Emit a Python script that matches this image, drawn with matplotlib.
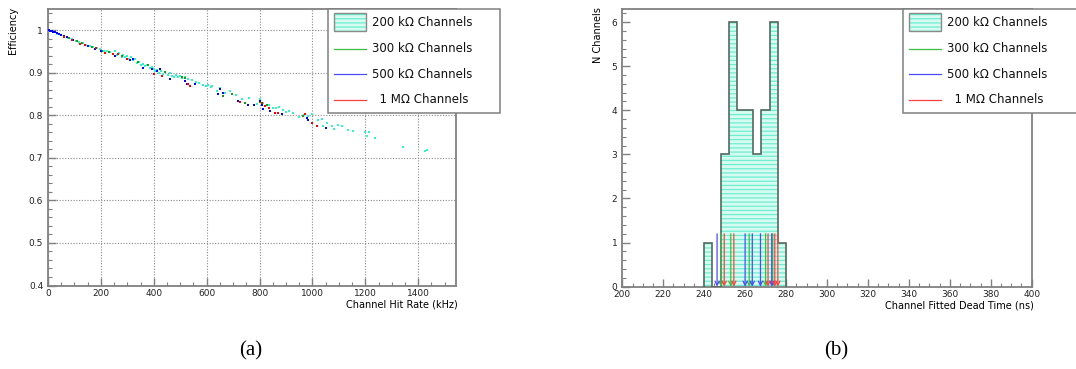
import matplotlib
matplotlib.use("Agg")
import matplotlib.pyplot as plt
import matplotlib.ticker as mticker
from matplotlib.patches import Rectangle
from matplotlib.lines import Line2D

# ---- (a) efficiency vs hit rate, one list pair per resistor group ----
cyan_rate = [8, 22, 35, 48, 62, 75, 90, 105, 118, 132, 145, 160, 172, 185, 198,
             210, 222, 235, 246, 255, 262, 270, 278, 285, 292, 300, 306, 314, 322,
             330, 338, 345, 352, 360, 368, 376, 384, 392, 400, 406, 412, 420, 428,
             436, 444, 452, 460, 468, 476, 484, 492, 500, 508, 520, 530, 545, 560,
             572, 585, 598, 606, 615, 622, 640, 652, 668, 690, 712, 735, 760, 790,
             800, 812, 822, 835, 850, 862, 875, 890, 900, 912, 925, 950, 970, 985,
             1000, 1022, 1035, 1040, 1054, 1073, 1080, 1098, 1111, 1136, 1155, 1200,
             1206, 1215, 1235, 1344, 1424, 1432]
cyan_eff = [0.998, 0.995, 0.992, 0.988, 0.985, 0.982, 0.979, 0.975, 0.972, 0.969,
            0.966, 0.962, 0.960, 0.957, 0.955, 0.951, 0.950, 0.948, 0.944, 0.950,
            0.942, 0.946, 0.938, 0.941, 0.936, 0.939, 0.933, 0.937, 0.930, 0.932,
            0.922, 0.925, 0.919, 0.920, 0.915, 0.917, 0.911, 0.913, 0.908, 0.904,
            0.906, 0.900, 0.904, 0.898, 0.902, 0.895, 0.899, 0.893, 0.891, 0.894,
            0.889, 0.892, 0.887, 0.889, 0.885, 0.882, 0.879, 0.875, 0.871, 0.868,
            0.872, 0.866, 0.869, 0.858, 0.864, 0.853, 0.856, 0.848, 0.838, 0.840,
            0.826, 0.838, 0.829, 0.822, 0.824, 0.818, 0.816, 0.820, 0.812, 0.807,
            0.810, 0.806, 0.797, 0.800, 0.798, 0.804, 0.788, 0.792, 0.774, 0.782,
            0.774, 0.768, 0.778, 0.774, 0.766, 0.762, 0.761, 0.752, 0.760, 0.746,
            0.726, 0.715, 0.719]

green_rate = [40, 80, 110, 130, 165, 205, 230, 280, 340, 380, 443, 506, 520, 663,
              695, 745, 800, 827, 965, 972]
green_eff = [0.990, 0.981, 0.974, 0.970, 0.961, 0.952, 0.949, 0.939, 0.926, 0.918,
             0.901, 0.889, 0.888, 0.845, 0.849, 0.829, 0.831, 0.825, 0.798, 0.803]

blue_rate = [2, 8, 14, 20, 27, 34, 42, 50, 60, 72, 95, 150, 178, 200, 253, 310, 322,
             361, 395, 411, 424, 462, 518, 525, 556, 644, 651, 663, 720, 757, 779,
             802, 808, 814, 840, 884, 979, 984, 1052]
blue_eff = [1.000, 0.999, 0.998, 0.996, 0.995, 0.993, 0.991, 0.989, 0.986, 0.983,
            0.977, 0.963, 0.955, 0.950, 0.940, 0.929, 0.932, 0.912, 0.909, 0.905,
            0.909, 0.885, 0.881, 0.874, 0.873, 0.849, 0.861, 0.853, 0.833, 0.824,
            0.824, 0.833, 0.825, 0.814, 0.810, 0.803, 0.794, 0.790, 0.771]

red_rate = [60, 90, 121, 140, 180, 216, 245, 266, 300, 399, 430, 531, 537, 726, 808,
            821, 834, 859, 870, 972, 998, 1016]
red_eff = [0.985, 0.978, 0.968, 0.965, 0.957, 0.946, 0.943, 0.944, 0.932, 0.898,
           0.893, 0.873, 0.869, 0.832, 0.828, 0.821, 0.817, 0.806, 0.806, 0.802,
           0.782, 0.775]

# ---- (b) fitted dead time ----
bin_edges = [240, 244, 248, 252, 256, 260, 264, 268, 272, 276, 280]
counts_200k = [1, 0, 3, 6, 4, 4, 3, 4, 6, 1]
dead_300k = [248.2, 253.0, 262.0, 270.0, 273.5]
dead_500k = [246.3, 260.0, 263.5, 267.5, 273.0]
dead_1M = [249.8, 254.5, 271.2, 274.5, 276.0]
marker_height = 1.2

labels = ["200 k\u03a9 Channels", "300 k\u03a9 Channels",
          "500 k\u03a9 Channels", "  1 M\u03a9 Channels"]

W, H = 1076, 369
frame = "#808080"
c_cyan = "#2cf5c8"
fill_face, fill_hatch = "#d6fbf1", "#6eeed0"
c_green_pt, c_blue_pt, c_red_pt = "#10a010", "#0000ff", "#ff0000"
c_green, c_blue, c_red = "#3cbf3c", "#4a4aff", "#ff4040"

plt.rcParams["hatch.linewidth"] = 0.9
fig = plt.figure(figsize=(W / 100, H / 100), dpi=100)


def px(x, y):
    return x / W, 1 - y / H


def style(ax):
    for s in ax.spines.values():
        s.set_color(frame)
        s.set_linewidth(1.3)
    ax.tick_params(which="both", direction="in", top=False, right=False,
                   color=frame, labelsize=6.5, labelcolor="#222222")
    ax.tick_params(which="major", length=5.5, width=1.0)
    ax.tick_params(which="minor", length=3.2, width=0.8)
    ax.tick_params(axis="x", pad=2.5)
    ax.tick_params(axis="y", pad=3.5)


# panel (a)
ax1 = fig.add_axes([48 / W, 1 - 285.5 / H, 408 / W, 276.2 / H])
ms = 2.0
ax1.plot(cyan_rate, cyan_eff, "s", color=c_cyan, ms=ms, mew=0, zorder=3)
ax1.plot(green_rate, green_eff, "s", color=c_green_pt, ms=ms, mew=0, zorder=3)
ax1.plot(blue_rate, blue_eff, "s", color=c_blue_pt, ms=ms, mew=0, zorder=3)
ax1.plot(red_rate, red_eff, "s", color=c_red_pt, ms=ms, mew=0, zorder=3)
ax1.set_xlim(0, 1543)
ax1.set_ylim(0.4, 1.049)
ax1.xaxis.set_major_locator(mticker.MultipleLocator(200))
ax1.xaxis.set_minor_locator(mticker.MultipleLocator(50))
ax1.yaxis.set_major_locator(mticker.MultipleLocator(0.1))
ax1.yaxis.set_minor_locator(mticker.MultipleLocator(0.02))
ax1.yaxis.set_major_formatter(mticker.FormatStrFormatter("%g"))
ax1.grid(True, which="major", color="#8a8a8a", ls=(0, (1, 1.5)), lw=0.8)
style(ax1)
ax1.set_xlabel("Channel Hit Rate (kHz)", fontsize=7, loc="right")
ax1.xaxis.set_label_coords(1.005, -0.05)
ax1.set_ylabel("Efficiency", fontsize=7, loc="top")
ax1.yaxis.set_label_coords(-0.074, 1.008)

# panel (b)
ax2 = fig.add_axes([622.3 / W, 1 - 286.7 / H, 409.4 / W, 277.4 / H])
ax2.stairs(counts_200k, bin_edges, fill=True, facecolor=fill_face,
           edgecolor=fill_hatch, hatch="----", lw=0, zorder=2)
ax2.stairs(counts_200k, bin_edges, color="#55675f", lw=1.2, zorder=3)
for vals, col in ((dead_300k, c_green), (dead_500k, c_blue), (dead_1M, c_red)):
    for v in vals:
        ax2.annotate("", xy=(v, 0), xytext=(v, marker_height),
                     arrowprops=dict(arrowstyle="->,head_length=0.3,head_width=0.15",
                                     color=col, lw=0.9, shrinkA=0, shrinkB=0),
                     zorder=4)
ax2.set_xlim(200, 400)
ax2.set_ylim(0, 6.29)
ax2.xaxis.set_major_locator(mticker.MultipleLocator(20))
ax2.xaxis.set_minor_locator(mticker.MultipleLocator(5))
ax2.yaxis.set_major_locator(mticker.MultipleLocator(1))
ax2.yaxis.set_minor_locator(mticker.MultipleLocator(0.2))
style(ax2)
ax2.set_xlabel("Channel Fitted Dead Time (ns)", fontsize=7, loc="right")
ax2.xaxis.set_label_coords(1.006, -0.05)
ax2.set_ylabel("N Channels", fontsize=7, loc="top")
ax2.yaxis.set_label_coords(-0.047, 1.008)


def draw_key(left, right, top=9.3, bottom=112.5):
    x0, y0 = px(left, bottom)
    x1, y1 = px(right, top)
    fig.add_artist(Rectangle((x0, y0), x1 - x0, y1 - y0, transform=fig.transFigure,
                             facecolor="white", edgecolor=frame, lw=1.1, zorder=5))
    sx0, sy0 = px(left + 6, 31)
    sx1, sy1 = px(left + 38, 12.7)
    fig.add_artist(Rectangle((sx0, sy0), sx1 - sx0, sy1 - sy0, transform=fig.transFigure,
                             facecolor=fill_face, edgecolor=fill_hatch, hatch="----",
                             lw=0, zorder=6))
    fig.add_artist(Rectangle((sx0, sy0), sx1 - sx0, sy1 - sy0, transform=fig.transFigure,
                             facecolor="none", edgecolor="#8a8a8a", lw=1.0, zorder=7))
    rows = [22, 48.5, 74, 100]
    for y, col in zip(rows[1:], (c_green, c_blue, c_red)):
        xa, ya = px(left + 6, y)
        xb, _ = px(left + 38, y)
        fig.add_artist(Line2D([xa, xb], [ya, ya], transform=fig.transFigure,
                              color=col, lw=0.9, zorder=6))
    for y, text in zip(rows, labels):
        tx, ty = px(left + 44, y)
        fig.text(tx, ty, text, fontsize=8.5, va="center", ha="left",
                 color="#111111", zorder=7)


draw_key(328, 500)
draw_key(903, 1082)

fig.text(251 / W, 1 - 351 / H, "(a)", family="Liberation Serif", fontsize=15,
         ha="center", va="center")
fig.text(836 / W, 1 - 351 / H, "(b)", family="Liberation Serif", fontsize=15,
         ha="center", va="center")

fig.savefig("out.png", dpi=100)
